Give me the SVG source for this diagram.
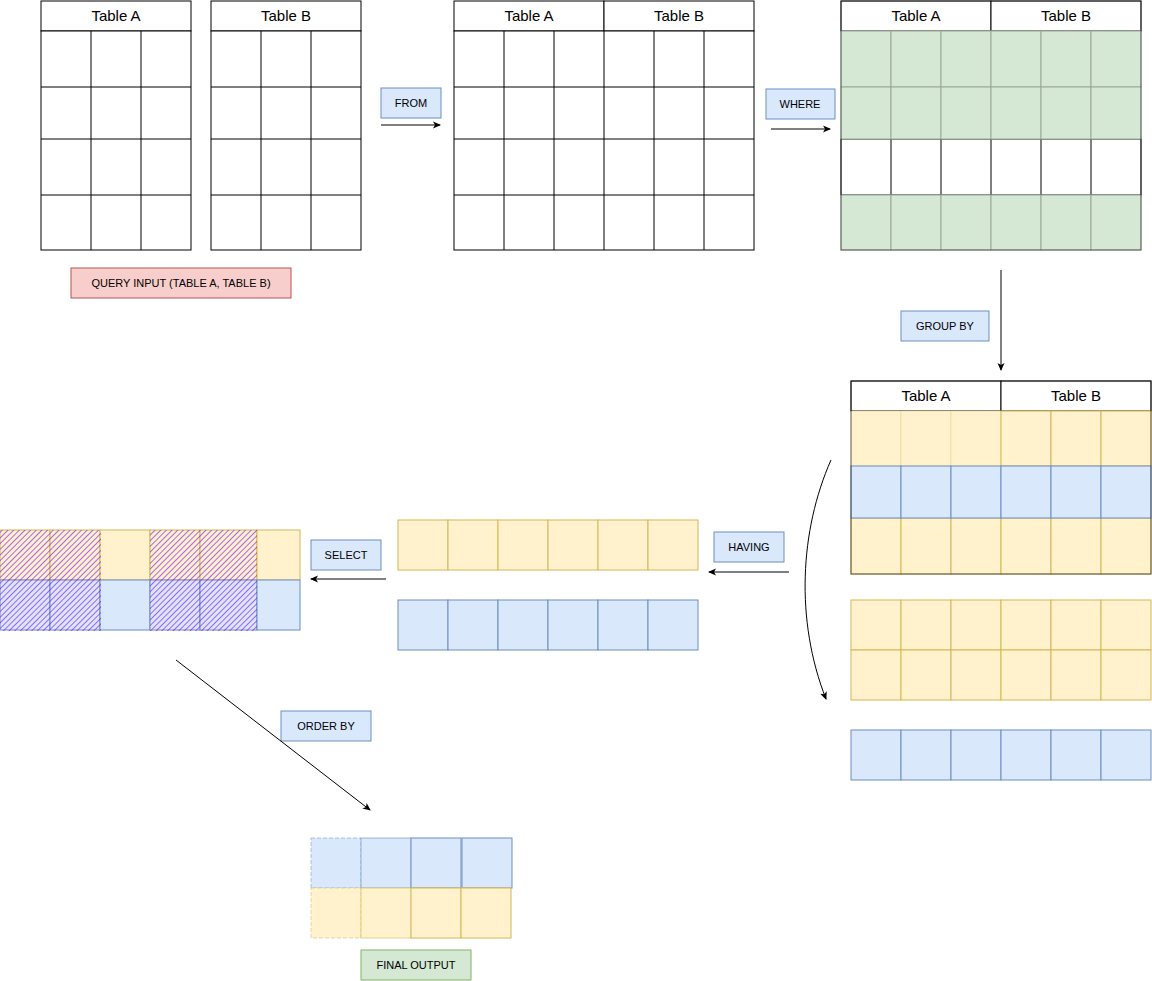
<svg xmlns="http://www.w3.org/2000/svg" width="1152" height="981" viewBox="0 0 1152 981">
<style>
text{font-family:"Liberation Sans",Arial,sans-serif;fill:#000}
.h{font-size:15px;text-anchor:middle}
.l{font-size:11px;text-anchor:middle}
.w{fill:#fff;stroke:#000;stroke-width:1}
.g{fill:#d5e8d4;stroke:#9aa89a}
.y{fill:#fff2cc;stroke:#d6b656}
.b{fill:#dae8fc;stroke:#6c8ebf}
.r{fill:#f8cecc;stroke:#b85450}
.gl{fill:#d5e8d4;stroke:#82b366}
.c{fill:none;stroke:#000;stroke-width:1}
</style>
<defs>
<marker id="a" markerWidth="8" markerHeight="8" refX="7" refY="4" orient="auto" markerUnits="userSpaceOnUse"><path d="M0,0.5 L8,4 L0,7.5 L2,4 Z" fill="#000"/></marker>
<pattern id="hat" width="4" height="4" patternUnits="userSpaceOnUse" patternTransform="rotate(45)"><line x1="0" y1="0" x2="0" y2="4" stroke="#7f00ff" stroke-width="1.6" stroke-opacity=".75"/></pattern>
</defs>
<g id="tableA">
<rect class="w" x="41" y="1" width="150" height="30"/><text class="h" x="116" y="21">Table A</text>
<rect class="w" x="41" y="31" width="150" height="219"/>
<path class="c" d="M91,31V250M141,31V250M41,87H191M41,139H191M41,195H191"/>
</g>
<g id="tableB">
<rect class="w" x="211" y="1" width="150" height="30"/><text class="h" x="286" y="21">Table B</text>
<rect class="w" x="211" y="31" width="150" height="219"/>
<path class="c" d="M261,31V250M311,31V250M211,87H361M211,139H361M211,195H361"/>
</g>
<g id="joined">
<rect class="w" x="454" y="1" width="150" height="30"/><text class="h" x="529" y="21">Table A</text>
<rect class="w" x="604" y="1" width="150" height="30"/><text class="h" x="679" y="21">Table B</text>
<rect class="w" x="454" y="31" width="300" height="219"/>
<path class="c" d="M504,31V250M554,31V250M604,31V250M654,31V250M704,31V250M454,87H754M454,139H754M454,195H754"/>
</g>
<g id="where">
<rect class="w" x="841" y="1" width="150" height="30"/><text class="h" x="916" y="21">Table A</text>
<rect class="w" x="991" y="1" width="150" height="30"/><text class="h" x="1066" y="21">Table B</text>
<rect class="w" x="841" y="139" width="300" height="56"/>
<path class="c" d="M891,139V195M941,139V195M991,139V195M1041,139V195M1091,139V195"/>
<g class="g">
<rect x="841" y="31" width="50" height="56"/><rect x="891" y="31" width="50" height="56"/><rect x="941" y="31" width="50" height="56"/><rect x="991" y="31" width="50" height="56"/><rect x="1041" y="31" width="50" height="56"/><rect x="1091" y="31" width="50" height="56"/>
<rect x="841" y="87" width="50" height="52"/><rect x="891" y="87" width="50" height="52"/><rect x="941" y="87" width="50" height="52"/><rect x="991" y="87" width="50" height="52"/><rect x="1041" y="87" width="50" height="52"/><rect x="1091" y="87" width="50" height="52"/>
<rect x="841" y="195" width="50" height="55"/><rect x="891" y="195" width="50" height="55"/><rect x="941" y="195" width="50" height="55"/><rect x="991" y="195" width="50" height="55"/><rect x="1041" y="195" width="50" height="55"/><rect x="1091" y="195" width="50" height="55"/>
</g>
<rect x="841" y="1" width="300" height="249" fill="none" stroke="#000" stroke-opacity=".5"/>
</g>
<g id="groupby">
<rect class="w" x="851" y="381" width="150" height="30"/><text class="h" x="926" y="401">Table A</text>
<rect class="w" x="1001" y="381" width="150" height="30"/><text class="h" x="1076" y="401">Table B</text>
<g class="y">
<rect x="851" y="411" width="50" height="55" stroke-opacity=".3"/><rect x="901" y="411" width="50" height="55" stroke-opacity=".3"/><rect x="951" y="411" width="50" height="55" stroke-opacity=".3"/><rect x="1001" y="411" width="50" height="55"/><rect x="1051" y="411" width="50" height="55"/><rect x="1101" y="411" width="50" height="55"/>
<rect x="851" y="518" width="50" height="56"/><rect x="901" y="518" width="50" height="56"/><rect x="951" y="518" width="50" height="56"/><rect x="1001" y="518" width="50" height="56"/><rect x="1051" y="518" width="50" height="56"/><rect x="1101" y="518" width="50" height="56"/>
</g>
<g class="b">
<rect x="851" y="466" width="50" height="52"/><rect x="901" y="466" width="50" height="52"/><rect x="951" y="466" width="50" height="52"/><rect x="1001" y="466" width="50" height="52"/><rect x="1051" y="466" width="50" height="52"/><rect x="1101" y="466" width="50" height="52"/>
</g>
<rect x="851" y="381" width="300" height="193" fill="none" stroke="#000" stroke-opacity=".6"/>
</g>
<g id="grouped">
<g class="y">
<rect x="851" y="600" width="50" height="50"/><rect x="901" y="600" width="50" height="50"/><rect x="951" y="600" width="50" height="50"/><rect x="1001" y="600" width="50" height="50"/><rect x="1051" y="600" width="50" height="50"/><rect x="1101" y="600" width="50" height="50"/>
<rect x="851" y="650" width="50" height="50"/><rect x="901" y="650" width="50" height="50"/><rect x="951" y="650" width="50" height="50"/><rect x="1001" y="650" width="50" height="50"/><rect x="1051" y="650" width="50" height="50"/><rect x="1101" y="650" width="50" height="50"/>
</g>
<g class="b">
<rect x="851" y="730" width="50" height="50"/><rect x="901" y="730" width="50" height="50"/><rect x="951" y="730" width="50" height="50"/><rect x="1001" y="730" width="50" height="50"/><rect x="1051" y="730" width="50" height="50"/><rect x="1101" y="730" width="50" height="50"/>
</g>
</g>
<g id="having">
<g class="y"><rect x="398" y="520" width="50" height="50"/><rect x="448" y="520" width="50" height="50"/><rect x="498" y="520" width="50" height="50"/><rect x="548" y="520" width="50" height="50"/><rect x="598" y="520" width="50" height="50"/><rect x="648" y="520" width="50" height="50"/></g>
<g class="b"><rect x="398" y="600" width="50" height="50"/><rect x="448" y="600" width="50" height="50"/><rect x="498" y="600" width="50" height="50"/><rect x="548" y="600" width="50" height="50"/><rect x="598" y="600" width="50" height="50"/><rect x="648" y="600" width="50" height="50"/></g>
</g>
<g id="select">
<g class="y"><rect x="0" y="530" width="50" height="50"/><rect x="50" y="530" width="50" height="50"/><rect x="100" y="530" width="50" height="50"/><rect x="150" y="530" width="50" height="50"/><rect x="200" y="530" width="57" height="50"/><rect x="257" y="530" width="43" height="50"/></g>
<g class="b"><rect x="0" y="580" width="50" height="50"/><rect x="50" y="580" width="50" height="50"/><rect x="100" y="580" width="50" height="50"/><rect x="150" y="580" width="50" height="50"/><rect x="200" y="580" width="57" height="50"/><rect x="257" y="580" width="43" height="50"/></g>
<g fill="url(#hat)"><rect x="0" y="530" width="101" height="101"/><rect x="150" y="530" width="107" height="101"/></g>
</g>
<g id="final">
<g class="b"><rect x="311" y="838" width="50" height="50" stroke-dasharray="4 2" stroke-opacity=".5"/><rect x="361" y="838" width="50" height="50" stroke-opacity=".6"/><rect x="411" y="838" width="50" height="50"/><rect x="462" y="838" width="50" height="50"/></g>
<g class="y"><rect x="311" y="888" width="50" height="50" stroke-dasharray="4 2" stroke-opacity=".5"/><rect x="361" y="888" width="50" height="50" stroke-opacity=".6"/><rect x="411" y="888" width="50" height="50"/><rect x="461" y="888" width="50" height="50"/></g>
</g>
<g id="labels">
<rect class="r" x="71" y="268" width="220" height="30"/><text class="l" x="181" y="287">QUERY INPUT (TABLE A, TABLE B)</text>
<rect class="b" x="381" y="88" width="60" height="30"/><text class="l" x="411" y="107">FROM</text>
<rect class="b" x="766" y="89" width="69" height="30"/><text class="l" x="800" y="108">WHERE</text>
<rect class="b" x="901" y="311" width="88" height="30"/><text class="l" x="945" y="330">GROUP BY</text>
<rect class="b" x="714" y="532" width="70" height="30"/><text class="l" x="749" y="551">HAVING</text>
<rect class="b" x="311" y="540" width="70" height="30"/><text class="l" x="346" y="559">SELECT</text>
<rect class="b" x="281" y="711" width="90" height="30"/><text class="l" x="326" y="730">ORDER BY</text>
<rect class="gl" x="361" y="950" width="110" height="30"/><text class="l" x="416" y="969">FINAL OUTPUT</text>
</g>
<g id="connectors" class="c">
<path d="M381,125H440" marker-end="url(#a)"/>
<path d="M771,129H830" marker-end="url(#a)"/>
<path d="M1001,270V370" marker-end="url(#a)"/>
<path d="M831,460C800,530 795,620 826,699" marker-end="url(#a)"/>
<path d="M789,572H709" marker-end="url(#a)"/>
<path d="M386,579H311" marker-end="url(#a)"/>
<path d="M176,660L370,810" marker-end="url(#a)"/>
</g>
</svg>
